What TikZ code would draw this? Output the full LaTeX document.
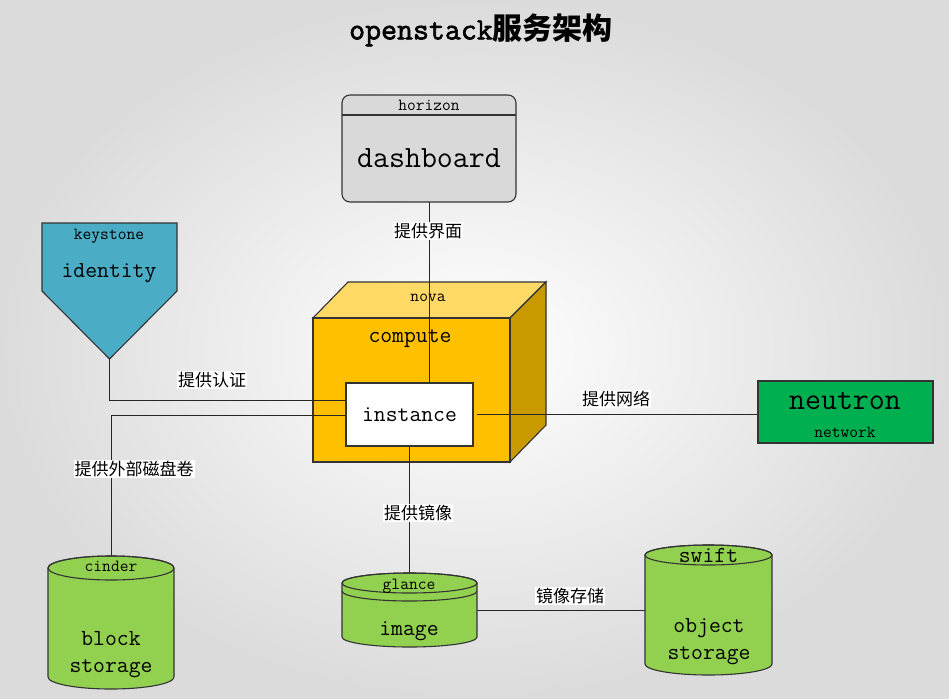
\documentclass[tikz,border=0pt]{standalone}
\usepackage{fontspec}
\newfontfamily\cjk{Noto Sans CJK SC}
\newfontfamily\titlemono{Latin Modern Mono}[FakeBold=2]
\usetikzlibrary{calc}
\definecolor{bord}{HTML}{333333}
\definecolor{hgray}{HTML}{D9D9D9}
\definecolor{ksblue}{HTML}{4BACC6}
\definecolor{novafront}{HTML}{FFC000}
\definecolor{novatop}{HTML}{FFD966}
\definecolor{novaside}{HTML}{C99A00}
\definecolor{ngreen}{HTML}{00B050}
\definecolor{cgreen}{HTML}{92D050}
\begin{document}
\begin{tikzpicture}[x=1pt,y=1pt,
  edge/.style={draw=black!85, line width=0.9pt},
  shapeline/.style={draw=bord, line width=1.1pt},
  holder/.style={inner sep=0pt, outer sep=0pt},
  lbl/.style={font=\cjk\fontsize{17}{17}\selectfont, fill=white, inner sep=1pt},
  smalltxt/.style={font=\ttfamily\fontsize{17}{17}\selectfont, inner sep=0pt},
  midtxt/.style={font=\ttfamily\fontsize{23}{23}\selectfont, inner sep=0pt},
  bigtxt/.style={font=\ttfamily\fontsize{31}{31}\selectfont, inner sep=0pt}]

% background
\shade[inner color=white, outer color=black!14] (0,0) rectangle (949,-698);
\useasboundingbox (0,0) rectangle (949,-698);

% title
\node[inner sep=0pt] (title) at (481,-30)
  {\titlemono\fontsize{31}{31}\selectfont openstack\cjk\bfseries\fontsize{30}{30}\selectfont 服务架构};

% horizon
\node[holder, shapeline, fill=hgray, rounded corners=8pt,
      minimum width=174pt, minimum height=107pt] (dash) at (429,-148.5) {};
\draw[shapeline] (342,-115) -- (516,-115);
\node[smalltxt] (hztxt) at (429,-105) {horizon};
\node[bigtxt] (dashtxt) at (429,-158) {dashboard};

% keystone
\node[holder, minimum width=135pt, minimum height=136pt] (ks) at (109.5,-291) {};
\filldraw[shapeline, fill=ksblue] (42,-223) -- (177,-223) -- (177,-291) -- (109.5,-359) -- (42,-291) -- cycle;
\node[smalltxt] (kstxt) at (109,-236) {keystone};
\node[midtxt] (idtxt) at (109,-273) {identity};

% nova cube
\node[holder, minimum width=197pt, minimum height=144pt] (nova) at (411.5,-390) {};
\filldraw[shapeline, fill=novatop] (313,-318) -- (348,-282) -- (546,-282) -- (510,-318) -- cycle;
\filldraw[shapeline, fill=novaside] (510,-318) -- (546,-282) -- (546,-425) -- (510,-462) -- cycle;
\filldraw[shapeline, fill=novafront] (313,-318) rectangle (510,-462);
\node[smalltxt] (novatxt) at (428,-298) {nova};
\node[midtxt] (comptxt) at (410,-339) {compute};

% other holders
\node[holder, minimum width=126pt, minimum height=133pt] (cinder) at (111,-622.5) {};
\node[holder, minimum width=135pt, minimum height=74pt] (glance) at (409.5,-610) {};
\node[holder, minimum width=127pt, minimum height=130pt] (swift) at (708.5,-610) {};

% connectors
\draw[edge] (dash.south) -- (dash.south |- 0,-383);
\coordinate (ksin) at (346,-400);
\draw[edge] (ks.south) |- (ksin);
\coordinate (cin) at (346,-415);
\draw[edge] (cin) -| (cinder.north);
\draw[edge] (409.5,-446) -- (glance.north);
\draw[edge] (477,-414) -- (758,-414);
\draw[edge] (glance.east) -- (swift.west);

% instance
\node[holder, draw=bord, line width=1.1pt, fill=white, minimum width=127pt, minimum height=63pt,
      font=\ttfamily\fontsize{23}{23}\selectfont] (inst) at (409.5,-414.5) {instance};

% neutron
\node[holder, shapeline, fill=ngreen, minimum width=175pt, minimum height=62pt] (neutron) at (845.5,-412) {};
\node[bigtxt] (neutxt) at (845,-401) {neutron};
\node[smalltxt] (nettxt) at (845,-432) {network};

% cinder cylinder
\filldraw[shapeline, fill=cgreen] (48,-568) -- (48,-677)
  arc[start angle=180, end angle=360, x radius=63pt, y radius=12pt] -- (174,-568)
  arc[start angle=0, end angle=180, x radius=63pt, y radius=12pt] -- cycle;
\draw[shapeline] (111,-568) ellipse[x radius=63pt, y radius=12pt];
\node[smalltxt] (cindtxt) at (111,-566) {cinder};
\node[midtxt] (blocktxt) at (111,-639) {block};
\node[midtxt] (stortxt) at (111,-669) {storage};

% glance cylinder
\filldraw[shapeline, fill=cgreen] (342,-583) -- (342,-637)
  arc[start angle=180, end angle=360, x radius=67.5pt, y radius=10pt] -- (477,-583)
  arc[start angle=0, end angle=180, x radius=67.5pt, y radius=10pt] -- cycle;
\draw[shapeline] (409.5,-583) ellipse[x radius=67.5pt, y radius=10pt];
\draw[shapeline] (342,-591) arc[start angle=180, end angle=360, x radius=67.5pt, y radius=10pt];
\node[smalltxt] (gltxt) at (409,-586) {glance};
\node[midtxt] (imgtxt) at (409,-631) {image};

% swift cylinder
\filldraw[shapeline, fill=cgreen] (645,-555) -- (645,-664)
  arc[start angle=180, end angle=360, x radius=63.5pt, y radius=11pt] -- (772,-555)
  arc[start angle=0, end angle=180, x radius=63.5pt, y radius=10pt] -- cycle;
\draw[shapeline] (708.5,-555) ellipse[x radius=63.5pt, y radius=10pt];
\node[midtxt] (swtxt) at (708.5,-555) {swift};
\node[midtxt] (objtxt) at (709,-628) {object};
\node[midtxt] (sttxt) at (709,-656) {storage};

% labels
\node[lbl] (l1) at (428,-231) {提供界面};
\node[lbl] (l2) at (212,-380) {提供认证};
\node[lbl] (l3) at (134,-469) {提供外部磁盘卷};
\node[lbl] (l4) at (418,-513) {提供镜像};
\node[lbl] (l5) at (616,-399) {提供网络};
\node[lbl] (l6) at (570,-596) {镜像存储};
\end{tikzpicture}
\end{document}
